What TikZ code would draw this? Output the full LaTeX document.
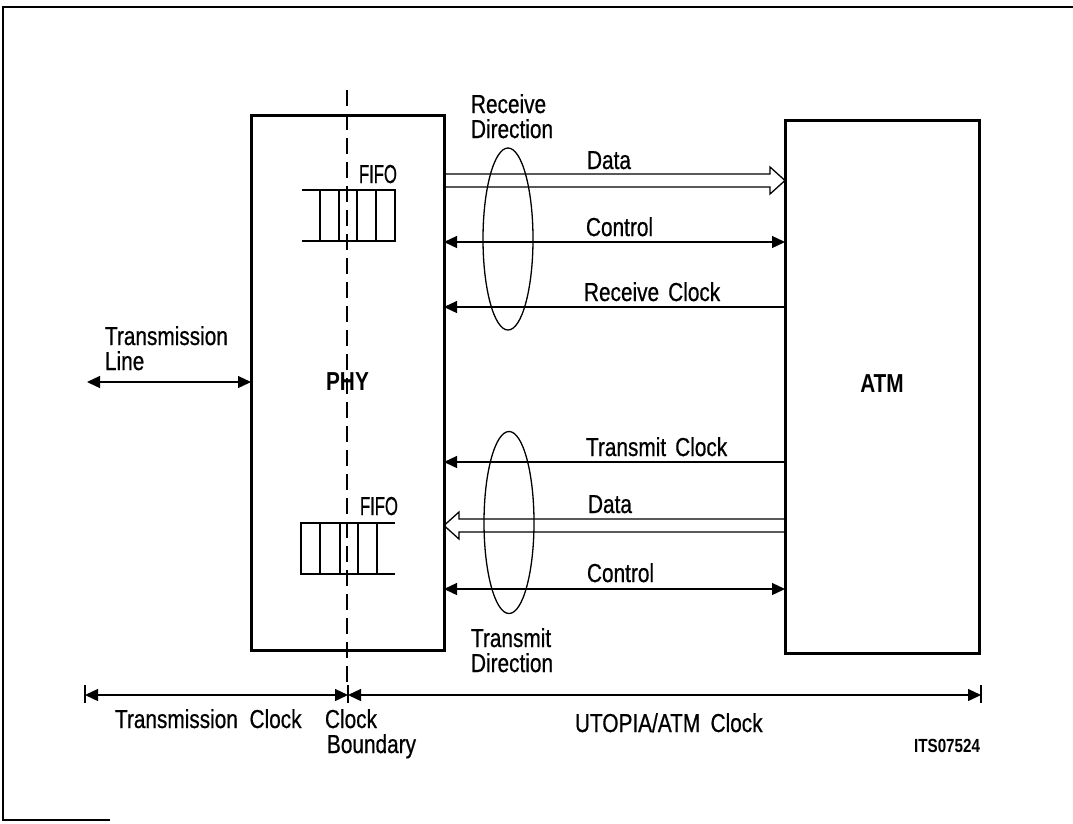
\documentclass[tikz,border=0pt]{standalone}
\usepackage{fontspec}
\setmainfont{Liberation Sans}[FakeStretch=0.8, UprightFeatures={FakeBold=0.6}]
\usetikzlibrary{arrows.meta,shapes.geometric,calc}
\tikzset{
  tri/.tip={Triangle[length=13pt,width=12pt]},
  ar/.style={-tri},
  both/.style={tri-tri},
}
\begin{document}
\begin{tikzpicture}[x=1pt,y=-1pt,
  every node/.style={inner sep=0pt,outer sep=0pt},
  txt/.style={font=\fontsize{26}{29}\selectfont,anchor=base west},
  blk/.style={draw,line width=3pt,font=\fontsize{26}{29}\selectfont\bfseries},
  thin/.style={line width=1.3pt},
  fifo/.style={line width=2.8pt},
  frame/.style={line width=1.5pt},
  bound/.style={line width=1.8pt,dash pattern=on 16pt off 8pt},
  direll/.style={draw,thin,ellipse,minimum width=50pt,minimum height=182pt}
]
\useasboundingbox (0,0) rectangle (1073,823);
% frame
\draw[frame] (1073,7) -- (3,7) -- (3,820) -- (110,820);

% blocks
\node[blk,minimum width=193pt,minimum height=535pt] (phy) at (347.5,382.5) {\raisebox{1pt}{PHY}};
\node[blk,minimum width=194pt,minimum height=533pt] (atm) at (882,386.5) {\raisebox{5pt}{ATM}};

% clock boundary
\coordinate (btop) at (347,90);
\coordinate (bbot) at (347,690);
\draw[bound] (btop) -- (bbot);

% FIFOs
\draw[fifo] (302,190) -- (395,190) -- (395,241) -- (302,241);
\foreach \x in {320,339,357,376} \draw[fifo] (\x,190) -- (\x,241);
\draw[fifo] (395,523) -- (301,523) -- (301,574) -- (395,574);
\foreach \x in {320,340,358,377} \draw[fifo] (\x,523) -- (\x,574);
\node[txt] (fifo1) at (359,183) {\scalebox{0.8}[1]{FIFO}};
\node[txt] (fifo2) at (360,515) {\scalebox{0.8}[1]{FIFO}};

% receive direction
\draw[thin,line join=miter] (phy.east |- 0,174) -- (770,174) -- (770,167) -- (atm.west |- 0,180.5) -- (770,194) -- (770,187) -- (phy.east |- 0,187);
\draw[thin,both] (phy.east |- 0,242) -- (atm.west |- 0,242);
\draw[thin,ar] (atm.west |- 0,307) -- (phy.east |- 0,307);
% transmit direction
\draw[thin,ar] (atm.west |- 0,462) -- (phy.east |- 0,462);
\draw[thin,line join=miter] (atm.west |- 0,519) -- (459,519) -- (459,512) -- (phy.east |- 0,525.5) -- (459,539) -- (459,532) -- (atm.west |- 0,532);
\draw[thin,both] (phy.east |- 0,589) -- (atm.west |- 0,589);

\node[direll] (rxell) at (508,239) {};
\node[direll] (txell) at (509,522.5) {};

\node[txt] (ldata1) at (587,169) {Data};
\node[txt] (lctl1) at (586,236) {Control};
\node[txt] (lrxclk) at (584,301) {Receive\hspace{0.35em}Clock};
\node[txt] (ltxclk) at (586,456) {Transmit\hspace{0.35em}Clock};
\node[txt] (ldata2) at (588,513) {Data};
\node[txt] (lctl2) at (587,582) {Control};

\node[txt] (rx1) at (471,113) {Receive};
\node[txt] (rx2) at (471,138) {Direction};
\node[txt] (tx1) at (471,647) {Transmit};
\node[txt] (tx2) at (471,672) {Direction};

% transmission line
\coordinate (tl) at (87,382);
\draw[thin,both] (tl) -- (phy.west |- tl);
\node[txt] (tl1) at (105,345) {Transmission};
\node[txt] (tl2) at (105,370) {Line};

% clock domains
\coordinate (dl) at (85,695);
\coordinate (dm) at (348,695);
\coordinate (dr) at (981,695);
\foreach \c in {dl,dm,dr} \draw[thin] ($(\c)+(0,-10)$) -- ($(\c)+(0,8)$);
\draw[thin,both] (dl) -- (dm);
\draw[thin,both] (dm) -- (dr);

\node[txt] (ctx) at (115,728) {Transmission\hspace{0.45em}Clock};
\node[txt] (cb1) at (325,728) {Clock};
\node[txt] (cb2) at (327,753) {Boundary};
\node[txt] (cat) at (575,732) {UTOPIA/ATM\hspace{0.4em}Clock};
\node[font=\fontsize{19}{21}\selectfont\bfseries,anchor=base east] (id) at (980,752) {ITS07524};
\end{tikzpicture}
\end{document}
